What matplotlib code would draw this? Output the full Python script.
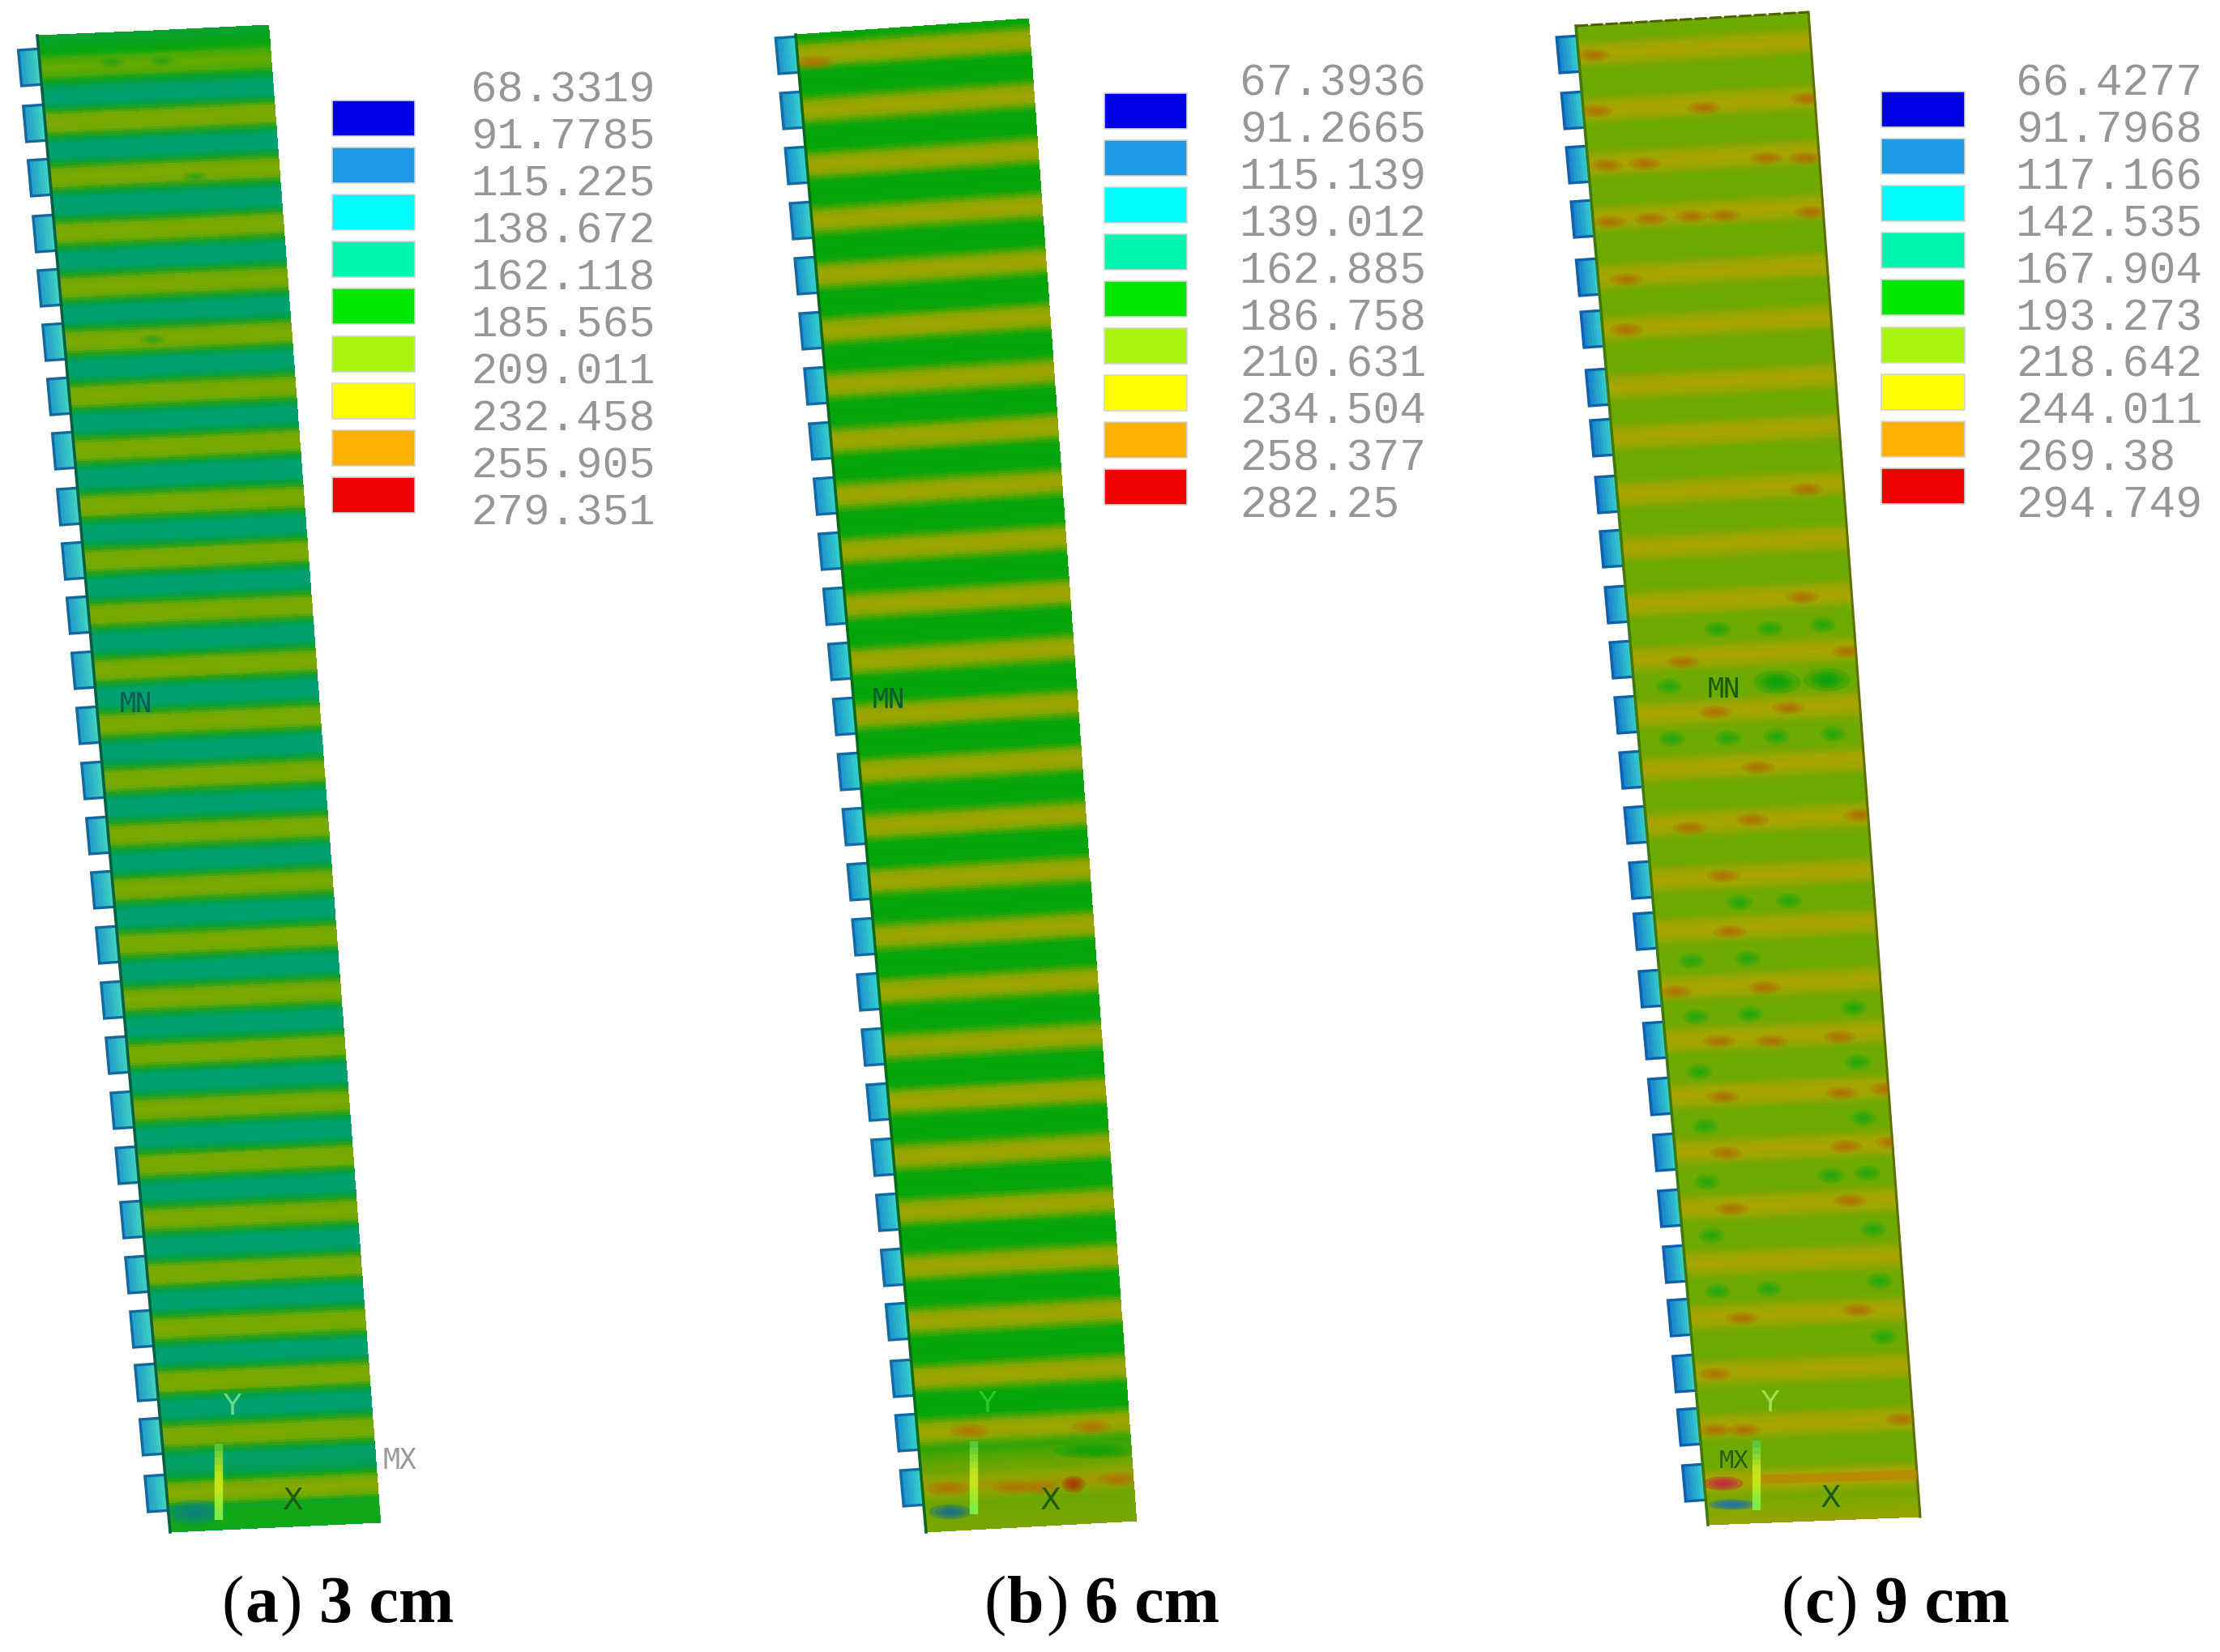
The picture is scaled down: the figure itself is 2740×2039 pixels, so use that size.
import numpy as np
import matplotlib
matplotlib.use("Agg")
import matplotlib.pyplot as plt
from matplotlib.patches import Ellipse, Polygon

# ---------- data ----------
labels_a = ["68.3319","91.7785","115.225","138.672","162.118","185.565","209.011","232.458","255.905","279.351"]
labels_b = ["67.3936","91.2665","115.139","139.012","162.885","186.758","210.631","234.504","258.377","282.25"]
labels_c = ["66.4277","91.7968","117.166","142.535","167.904","193.273","218.642","244.011","269.38","294.749"]
swatch_colors = ["#0000e6","#1f9ae6","#00ffff","#00f5b0","#00e600","#aaf510","#ffff00","#ffb000","#f00000"]

stripes_a = [85,154,221,290,357,424,491,558,627,694,761,829,897,965,1033,1100,1168,1236,1304,1372,1440,1507,1575,1642,1708,1775,1845]
stripes_b = [70,138,206,274,342,410,478,546,614,682,750,818,886,954,1022,1090,1158,1226,1294,1362,1430,1498,1566,1633,1703,1770,1838]
stripes_c = [69,138,205,272,344,408,480,542,612,679,748,816,884,952,1020,1088,1151,1222,1286,1355,1424,1493,1562,1628,1697,1763,1832]

hot_c = [(1967,69),(1970,138),(2103,134),(2230,123),(1983,205),(2030,203),(2180,196),(2228,196),
         (1987,275),(2037,271),(2088,268),(2128,267),(2235,263),(2007,346),(2007,408),(2230,605),
         (2077,818),(2280,805),(2207,875),(2117,880),(2170,948),(2225,738),(2163,1013),(2295,1007),
         (2085,1023),(2127,1082),(2135,1151),(2178,1220),(2068,1225),(2122,1286),(2187,1286),(2270,1281),
         (2127,1355),(2273,1350),(2328,1345),(2130,1424),(2278,1416),(2335,1411),(2138,1493),(2283,1483),
         (2150,1628),(2293,1618),(2117,1697),(2117,1766),(2153,1766),(2347,1753)]
cool_c = [(2120,778),(2185,777),(2250,772),(2060,848),(2193,843),(2255,840),(2063,913),(2133,912),
          (2193,910),(2262,907),(2147,1115),(2208,1113),(2088,1187),(2157,1184),(2093,1256),(2160,1253),
          (2288,1245),(2098,1324),(2293,1312),(2105,1391),(2300,1381),(2107,1460),(2260,1452),(2305,1449),
          (2113,1526),(2312,1518),(2120,1595),(2183,1592),(2320,1582),(2325,1651)]
hot_b = [(1347,1762),(1197,1767),(1250,1837),(1285,1837),(1380,1827),(1170,1838),(1005,78)]
gaps_a = [(138,78),(201,76),(241,219),(189,420)]

# ---------- layout ----------
W, H = 2740, 2040
fig = plt.figure(figsize=(W/100, H/100), dpi=100)
ax = fig.add_axes([0, 0, 1, 1])
ax.set_xlim(0, W); ax.set_ylim(H, 0); ax.axis("off")

def bilinear(c, u, v):
    tl, tr, bl, br = [np.array(p, float) for p in c]
    u = np.asarray(u, float)[..., None]; v = np.asarray(v, float)[..., None]
    return (1-v)*((1-u)*tl + u*tr) + v*((1-u)*bl + u*br)

def profile(d, stops):
    ds = [s[0] for s in stops]
    return np.stack([np.interp(d, ds, [s[1][i] for s in stops]) for i in range(3)], -1)/255

def draw_teeth(c, stripes, left, right, edge):
    for i, ys in enumerate(stripes):
        v = (ys - c[0][1])/(c[2][1] - c[0][1])
        p = bilinear(c, 0.0, v)
        x0, y0 = p[0], p[1]
        us = np.linspace(0, 1, 9)
        X = np.array([[x0-25+29*t + (yy*0.09) for t in us] for yy in (-22, 22)])
        Y = np.array([[y0+yy + (-2*t) for t in us] for yy in (-22, 22)])
        col = np.array([[np.array(left)*(1-t)+np.array(right)*t for t in (us[:-1]+us[1:])/2]])/255
        ax.pcolormesh(X, Y, col, shading="flat", zorder=2, rasterized=True)
        ax.plot([X[0,-1], X[0,0], X[1,0], X[1,-1]], [Y[0,-1], Y[0,0], Y[1,0], Y[1,-1]],
                color=edge, lw=2.4, zorder=2.1, solid_joinstyle="miter")

def draw_field(c, stripes, stops, tail=None, head=None):
    vs = np.linspace(0, 1, 640); us = np.linspace(0, 1, 3)
    U, V = np.meshgrid(us, vs)
    P = bilinear(c, U, V)
    yleft = c[0][1] + (vs[:-1]+vs[1:])/2*(c[2][1]-c[0][1])
    d = np.min(np.abs(yleft[:, None] - np.array(stripes)[None, :]), axis=1)
    rgb = profile(d, stops)
    if tail:
        w = np.clip((yleft - tail[0])/40, 0, 1)[:, None]
        rgb = rgb*(1-w) + profile(d, tail[1])*w
    if head:
        w = np.clip((head[0] - yleft)/40, 0, 1)[:, None]
        rgb = rgb*(1-w) + profile(d, head[1])*w
    C = np.repeat(rgb[:, None, :], 2, axis=1)
    ax.pcolormesh(P[...,0], P[...,1], C, shading="flat", zorder=3, rasterized=True)

def blob(clip, x, y, w, h, col, a=0.28, z=4):
    for k in (1.45, 1.05, 0.7, 0.4):
        e = Ellipse((x, y), w*k, h*k, fc=col, ec="none", alpha=a, zorder=z)
        ax.add_patch(e)
        e.set_clip_path(clip)

def panel_clip(c):
    poly = Polygon([c[0], c[1], c[3], c[2]], closed=True, transform=ax.transData, fc="none", ec="none")
    ax.add_patch(poly)
    return poly

def triad(x, y0, y1, ycol, xc, yc):
    ys = np.linspace(y0, y1, 12)
    cols = ["#58c83a","#6fd038","#8ad82e","#a5de24","#bce21c","#c6e414","#c4e618","#b0e824","#98ea30","#86ec3e","#7cec48"]
    for a, b, cc in zip(ys[:-1], ys[1:], cols):
        ax.plot([x, x], [a, b], color=cc, lw=7.5, solid_capstyle="butt", zorder=6)
    ax.text(x+16, y0-47, "Y", color=ycol, fontsize=26, family="DejaVu Sans", ha="center", va="center", alpha=.75, zorder=6)
    ax.text(xc, yc, "X", color="#1e5a10", fontsize=27, family="DejaVu Sans", ha="center", va="center", zorder=6)

def legend(labels, sx, sw, sy, spitch, lx, ly, lpitch, fs):
    for i, col in enumerate(swatch_colors):
        ax.add_patch(plt.Rectangle((sx, sy+i*spitch), sw, 44, fc=col, ec="#cfd8cf", lw=1.2, zorder=3))
    for i, t in enumerate(labels):
        ax.text(lx, ly+i*lpitch, t, family="Liberation Mono", fontsize=fs, color="#969696",
                va="center", ha="left", zorder=3)

def caption(x, base, letter, rest):
    r = fig.canvas.get_renderer()
    for s, w, gap in (("(", "normal", 0), (letter, "bold", 0), (")", "normal", 19), (rest, "bold", 0)):
        t = ax.text(x, base, s, family="Liberation Serif", fontsize=59, weight=w, color="black",
                    va="baseline", ha="left", zorder=7)
        x += t.get_window_extent(r).width + 2 + gap

# ---------- panel a ----------
ca = [(46,45),(332,32),(210,1892),(470,1880)]
draw_teeth(ca, stripes_a, (30,150,205), (70,225,190), "#14689e")
draw_field(ca, stripes_a,
    [(0,(125,170,0)),(9,(115,168,5)),(15,(40,160,25)),(20,(5,160,70)),(26,(0,160,112)),(40,(0,160,112))],
    tail=(1790,[(0,(135,170,0)),(10,(115,168,5)),(16,(25,165,20)),(22,(5,160,70)),(40,(5,160,100))]),
    head=(120,[(0,(100,170,0)),(10,(70,170,5)),(17,(8,165,15)),(40,(8,160,50))]))
p = bilinear(ca, [0,0], [0,1]); ax.plot(p[:,0], p[:,1], color="#07603f", lw=2.6, zorder=4)
clip = panel_clip(ca)
for x,y in gaps_a:
    blob(clip,x,y,22,9,"#18a020",a=.22)
blob(clip,240,1868,50,22,"#0a7c96",a=.3)
ax.add_patch(Polygon(bilinear(ca,[0,1,1,0],[.985,.985,1,1]), fc="#10a818", ec="none", zorder=3.5))
triad(270,1783,1877,"#8cf08c",362,1853)
ax.text(168,870,"MN",family="DejaVu Sans Mono",fontsize=24,color="#0d5a50",ha="center",va="center",zorder=6)
ax.text(493,1803,"MX",family="DejaVu Sans Mono",fontsize=25,color="#9a9a9a",ha="center",va="center",zorder=6)
legend(labels_a, 410, 102, 125, 58.1, 581, 111, 58.1, 39)
caption(273, 2002, "a", "3 cm")

# ---------- panel b ----------
cb = [(982,44),(1270,24),(1143,1892),(1403,1878)]
draw_teeth(cb, stripes_b, (25,140,205), (60,225,205), "#146aa4")
draw_field(cb, stripes_b,
    [(0,(160,165,0)),(9,(140,165,0)),(15,(70,165,5)),(21,(8,165,10)),(40,(0,165,5))],
    tail=(1775,[(0,(160,150,0)),(9,(140,165,0)),(20,(108,165,0)),(50,(120,165,0))]))
p = bilinear(cb, [0,0], [0,1]); ax.plot(p[:,0], p[:,1], color="#0a6a1c", lw=2.6, zorder=4)
clip = panel_clip(cb)
blob(clip,1352,1792,70,13,"#08a008",a=.35)
for x,y in hot_b:
    blob(clip,x,y,34,12,"#b86800",a=.25)
blob(clip,1325,1833,20,14,"#a82d00",a=.35)
blob(clip,1173,1867,36,13,"#0a6a9c",a=.35)
triad(1202,1780,1870,"#30d830",1297,1853)
ax.text(1097,865,"MN",family="DejaVu Sans Mono",fontsize=24,color="#0b5a30",ha="center",va="center",zorder=6)
legend(labels_b, 1363, 102, 116, 58.0, 1530, 104, 57.8, 39.5)
caption(1214, 2002, "b", "6 cm")

# ---------- panel c ----------
cc = [(1945,33),(2232,16),(2108,1883),(2370,1873)]
draw_teeth(cc, stripes_c, (20,120,205), (60,225,205), "#1060ac")
draw_field(cc, stripes_c,
    [(0,(170,165,0)),(9,(156,165,0)),(16,(122,168,0)),(22,(108,170,0)),(40,(108,170,0))],
    tail=(1845,[(0,(165,150,0)),(30,(155,165,0)),(60,(150,160,0))]))
p = bilinear(cc, [0,0], [0,1]); ax.plot(p[:,0], p[:,1], color="#3f7a10", lw=2.6, zorder=4)
p = bilinear(cc, [1,1], [0,1]); ax.plot(p[:,0], p[:,1], color="#5f6f00", lw=2.2, zorder=4)
p = bilinear(cc, [0,1], [0,0]); ax.plot(p[:,0], p[:,1], color="#4f5f00", lw=2.2, ls=(0,(5,1)), zorder=4)
clip = panel_clip(cc)
for x,y in hot_c:
    blob(clip,x,y,28,11,"#b06000",a=.25)
for x,y in cool_c:
    blob(clip,x,y,22,13,"#12a812",a=.28)
for x,y in [(2193,843),(2255,840)]:
    blob(clip,x,y,40,20,"#0ca00c",a=.32)
l, = ax.plot([2177,2368],[1827,1821],color="#bd8400",lw=8,alpha=.75,zorder=4)
l.set_clip_path(clip)
blob(clip,2127,1832,34,12,"#c02040",a=.4)
blob(clip,2138,1858,40,9,"#1f70b0",a=.45)
triad(2168,1779,1865,"#b8f070",2260,1850)
ax.text(2128,852,"MN",family="DejaVu Sans Mono",fontsize=24,color="#155a10",ha="center",va="center",zorder=6)
ax.text(2140,1804,"MX",family="DejaVu Sans Mono",fontsize=22,color="#2e5a10",ha="center",va="center",zorder=6)
legend(labels_c, 2322, 103, 114, 58.1, 2488, 104, 57.8, 39.5)
caption(2198, 2002, "c", "9 cm")

fig.savefig("out.png", dpi=100, facecolor="white")
